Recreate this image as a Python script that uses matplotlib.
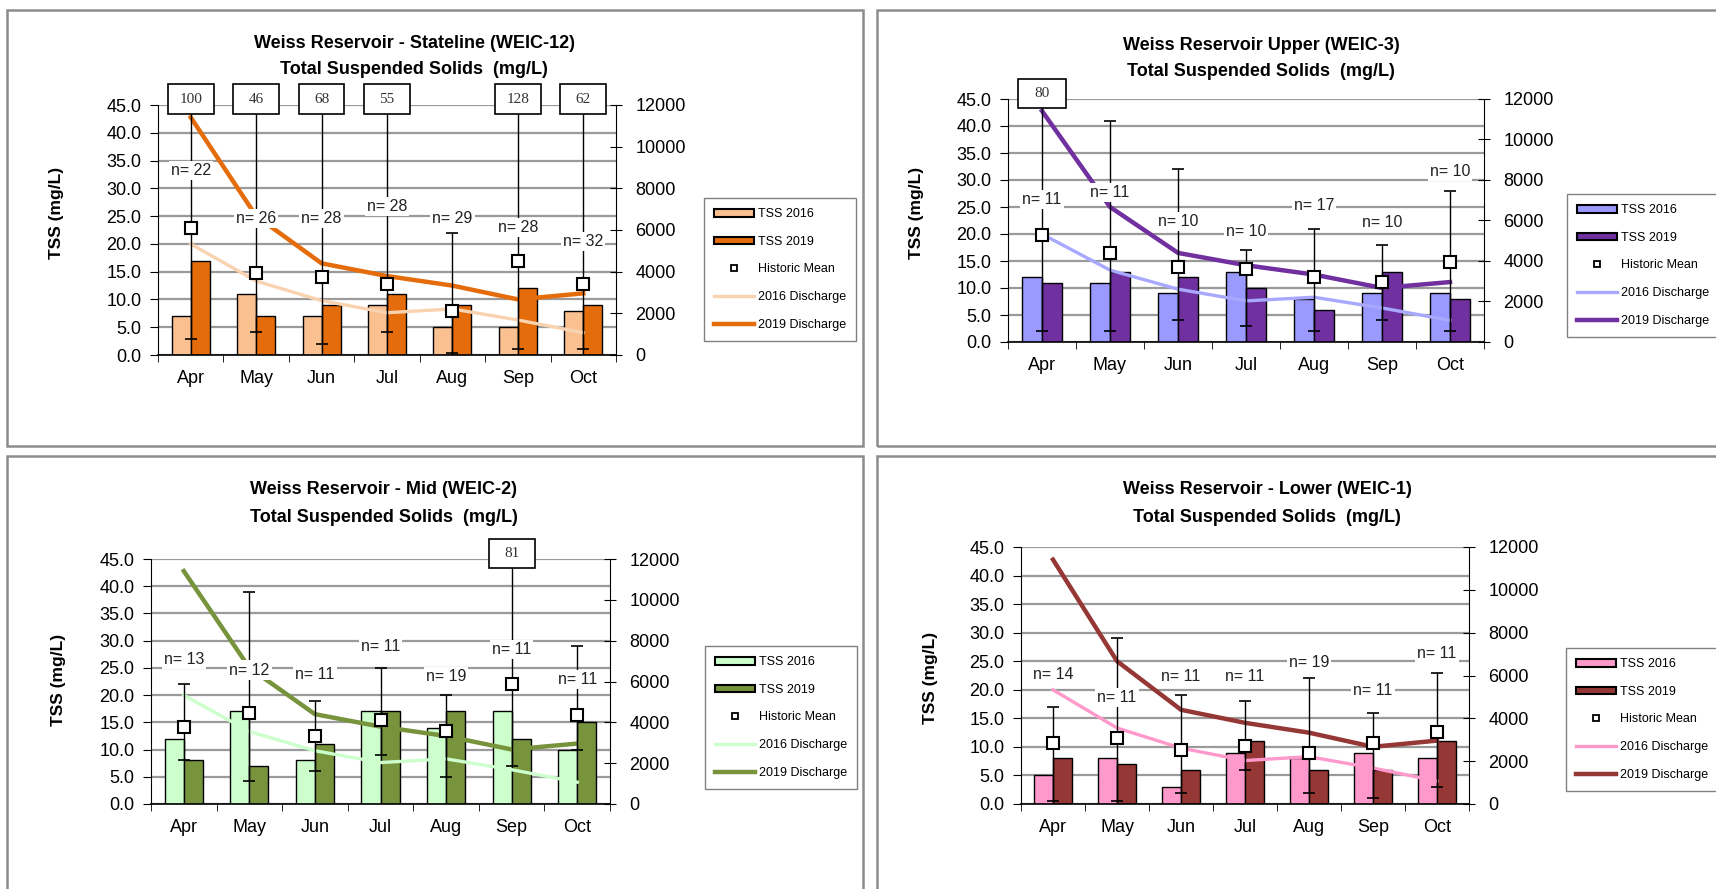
import matplotlib
matplotlib.use('Agg')
import matplotlib.pyplot as plt
from matplotlib.patches import Patch, Rectangle
from matplotlib.lines import Line2D
import numpy as np

plt.rcParams['font.family'] = ['Liberation Sans', 'DejaVu Sans']

months = ['Apr', 'May', 'Jun', 'Jul', 'Aug', 'Sep', 'Oct']

# discharge (right axis), same river flow drawn on every site
discharge_2016 = [5330, 3550, 2610, 2030, 2210, 1680, 1070]
discharge_2019 = [11410, 6670, 4400, 3790, 3330, 2670, 2960]

# Stateline (WEIC-12)
stateline_title = 'Weiss Reservoir - Stateline (WEIC-12)'
stateline_2016 = [7, 11, 7, 9, 5, 5, 8]
stateline_2019 = [17, 7, 9, 11, 9, 12, 9]
stateline_mean = [22.8, 14.8, 14.0, 12.8, 8.0, 17.0, 12.8]
stateline_min = [2.9, 4.1, 2.0, 4.1, 0.3, 1.1, 1.1]
stateline_max = [100, 46, 68, 55, 22, 128, 62]
stateline_n = [22, 26, 28, 28, 29, 28, 32]
stateline_n_y = [33.2, 24.5, 24.5, 26.8, 24.6, 23.0, 20.5]

# Upper (WEIC-3)
upper_title = 'Weiss Reservoir Upper (WEIC-3)'
upper_2016 = [12, 11, 9, 13, 8, 9, 9]
upper_2019 = [11, 13, 12, 10, 6, 13, 8]
upper_mean = [19.9, 16.4, 13.9, 13.6, 12.1, 11.1, 14.9]
upper_min = [2, 2, 4, 3, 2, 4, 2]
upper_max = [80, 41, 32, 17, 21, 18, 28]
upper_n = [11, 11, 10, 10, 17, 10, 10]
upper_n_y = [26.4, 27.7, 22.3, 20.4, 25.2, 22.1, 31.6]

# Mid (WEIC-2)
mid_title = 'Weiss Reservoir - Mid (WEIC-2)'
mid_2016 = [12, 17, 8, 17, 14, 17, 10]
mid_2019 = [8, 7, 11, 17, 17, 12, 15]
mid_mean = [14.2, 16.7, 12.5, 15.5, 13.5, 22.0, 16.4]
mid_min = [8, 4.2, 6, 9, 5, 6.9, 10]
mid_max = [22, 39, 19, 25, 20, 81, 29]
mid_n = [13, 12, 11, 11, 19, 11, 11]
mid_n_y = [26.5, 24.6, 23.7, 28.9, 23.4, 28.3, 22.8]

# Lower (WEIC-1)
lower_title = 'Weiss Reservoir - Lower (WEIC-1)'
lower_2016 = [5, 8, 3, 9, 8, 9, 8]
lower_2019 = [8, 7, 6, 11, 6, 6, 11]
lower_mean = [10.6, 11.6, 9.5, 10.2, 8.9, 10.6, 12.6]
lower_min = [0.5, 0.5, 2, 6, 2, 1, 3]
lower_max = [17, 29, 19, 18, 22, 16, 23]
lower_n = [14, 11, 11, 11, 19, 11, 11]
lower_n_y = [22.6, 18.6, 22.4, 22.4, 24.8, 19.9, 26.4]

W, H = 1716, 889
fig = plt.figure(figsize=(W / 100, H / 100), dpi=100)


def fig_rect(x0, y0, x1, y1):
    return [x0 / W, 1 - y1 / H, (x1 - x0) / W, (y1 - y0) / H]


# panel frames
for (x0, y0, x1, y1) in [(7, 10, 863, 446), (877, 10, 1740, 446),
                         (7, 456, 863, 910), (877, 456, 1740, 910)]:
    fig.add_artist(Rectangle((x0 / W, 1 - y1 / H), (x1 - x0) / W, (y1 - y0) / H,
                             transform=fig.transFigure, fill=False,
                             edgecolor='#8c8c8c', lw=1.8))

panels = [
    dict(title=stateline_title, t16=stateline_2016, t19=stateline_2019, mean=stateline_mean,
         lo=stateline_min, hi=stateline_max, n=stateline_n, ny=stateline_n_y,
         c16='#FAC090', c19='#E46C0A', l16='#F9D2B0', l19='#E46C0A',
         box=(158, 105, 616, 355), tx=414, ty=43, yl=(57, 213), leg=(698, 192)),
    dict(title=upper_title, t16=upper_2016, t19=upper_2019, mean=upper_mean,
         lo=upper_min, hi=upper_max, n=upper_n, ny=upper_n_y,
         c16='#9999FF', c19='#7030A0', l16='#A8A8FF', l19='#7030A0',
         box=(1008, 99, 1484, 342), tx=1261, ty=45, yl=(917, 213), leg=(1561, 188)),
    dict(title=mid_title, t16=mid_2016, t19=mid_2019, mean=mid_mean,
         lo=mid_min, hi=mid_max, n=mid_n, ny=mid_n_y,
         c16='#CCFFCC', c19='#77933C', l16='#CCFFCC', l19='#77933C',
         box=(151, 559, 610, 804), tx=384, ty=490, yl=(58, 680), leg=(699, 640)),
    dict(title=lower_title, t16=lower_2016, t19=lower_2019, mean=lower_mean,
         lo=lower_min, hi=lower_max, n=lower_n, ny=lower_n_y,
         c16='#FF99CC', c19='#953735', l16='#FF99CC', l19='#953735',
         box=(1021, 547, 1469, 804), tx=1267, ty=490, yl=(931, 678), leg=(1560, 642)),
]

x = np.arange(len(months))
bw = 0.29

for p in panels:
    ax = fig.add_axes(fig_rect(*p['box']))
    ax.bar(x - bw / 2, p['t16'], width=bw, color=p['c16'], edgecolor='black', lw=1, zorder=2)
    ax.bar(x + bw / 2, p['t19'], width=bw, color=p['c19'], edgecolor='black', lw=1, zorder=2)
    ax.set_xlim(-0.5, 6.5)
    ax.set_ylim(0, 45)
    yt = np.arange(0, 46, 5)
    ax.set_yticks(yt)
    ax.set_yticklabels([f'{v:.1f}' for v in yt])
    ax.yaxis.grid(True, color='#9a9a9a', lw=1.6)
    ax.set_axisbelow(True)
    ax.set_xticks(x)
    ax.set_xticklabels(months)
    ax.set_xticks(np.arange(-0.5, 7, 1), minor=True)
    ax.tick_params(axis='x', which='major', length=0, pad=11, labelsize=13)
    ax.tick_params(axis='x', which='minor', length=5, direction='out')
    ax.tick_params(axis='y', length=6, direction='out', pad=6, labelsize=13)
    for s in ['top', 'right']:
        ax.spines[s].set_visible(False)
    ax.spines['bottom'].set_linewidth(1.2)

    axq = ax.twinx()
    axq.plot(x, discharge_2016, color=p['l16'], lw=2.4, zorder=3)
    axq.plot(x, discharge_2019, color=p['l19'], lw=3.2, zorder=3)
    axq.set_ylim(0, 12000)
    axq.set_yticks(range(0, 12001, 2000))
    axq.tick_params(axis='y', direction='inout', length=8, pad=10, labelsize=13)
    for s in ['top', 'left', 'bottom']:
        axq.spines[s].set_visible(False)

    axt = ax.twinx()
    axt.set_ylim(0, 45)
    axt.axis('off')
    mean = np.array(p['mean'])
    lo = np.array(p['lo'])
    hi = np.array(p['hi'])
    axt.errorbar(x, mean, yerr=[mean - lo, hi - mean], fmt='none', ecolor='black',
                 elinewidth=1, capsize=4, capthick=1.2)
    axt.plot(x, mean, 's', ms=8, mfc='white', mec='black', mew=1.5, zorder=4)
    for i in range(len(months)):
        axt.text(x[i], p['ny'][i], f'n= {p["n"][i]}', ha='center', va='center', fontsize=11.5,
                 color='#222222', zorder=5,
                 bbox=dict(facecolor='white', edgecolor='none', pad=1.5))
        if hi[i] > 45:
            axt.add_patch(Rectangle((x[i] - 0.35, 46 - 2.7), 0.7, 5.4, facecolor='white',
                                    edgecolor='black', lw=1.2, clip_on=False, zorder=6))
            axt.text(x[i], 46, str(p['hi'][i]), ha='center', va='center', fontsize=11,
                     family='Liberation Serif', color='#333333', zorder=7, clip_on=False)

    fig.text(p['tx'] / W, 1 - p['ty'] / H, p['title'], ha='center', va='center',
             fontsize=13, fontweight='bold')
    fig.text(p['tx'] / W, 1 - (p['ty'] + 27) / H, 'Total Suspended Solids  (mg/L)',
             ha='center', va='center', fontsize=13, fontweight='bold')
    fig.text(p['yl'][0] / W, 1 - p['yl'][1] / H, 'TSS (mg/L)', rotation=90,
             ha='center', va='center', fontsize=12.5, fontweight='bold')

    handles = [
        Patch(facecolor=p['c16'], edgecolor='black', lw=1.5),
        Patch(facecolor=p['c19'], edgecolor='black', lw=1.5),
        Line2D([], [], marker='s', ls='none', ms=5, mfc='white', mec='black', mew=1.3),
        Line2D([], [], color=p['l16'], lw=2.4),
        Line2D([], [], color=p['l19'], lw=3.2),
    ]
    labels = ['TSS 2016', 'TSS 2019', 'Historic Mean', '2016 Discharge', '2019 Discharge']
    fig.legend(handles, labels, loc='upper left',
               bbox_to_anchor=(p['leg'][0] / W, 1 - p['leg'][1] / H),
               fontsize=9, frameon=True, fancybox=False, edgecolor='#808080',
               handlelength=3.2, handleheight=0.6, labelspacing=1.25, borderpad=0.8,
               handletextpad=0.3, framealpha=1)

fig.savefig('out.png', dpi=100)
